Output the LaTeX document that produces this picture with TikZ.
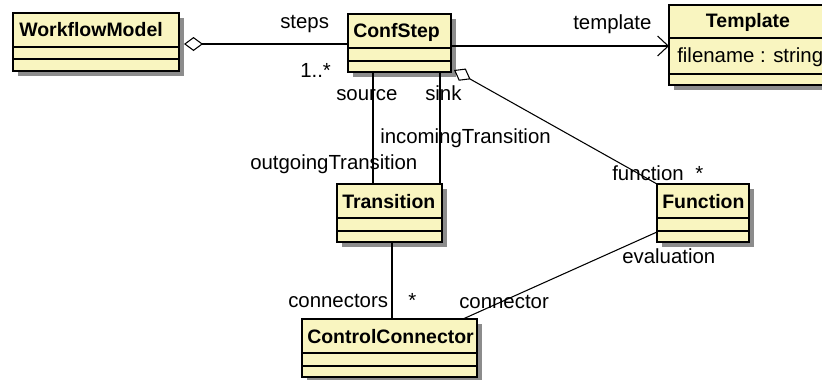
\documentclass[tikz,border=0pt]{standalone}
\usepackage{fontspec}
\setmainfont{Liberation Sans}
\usetikzlibrary{arrows.meta,calc,shadows}
\definecolor{clsfill}{RGB}{249,245,192}
\definecolor{shadowgray}{RGB}{140,140,140}
\newcommand{\clsdiv}[3]{%
  \draw[divline] ($(#1.north west)+(0,#2)$) -- ($(#1.north east)+(0,#2)$);
  \draw[divline] ($(#1.north west)+(0,#3)$) -- ($(#1.north east)+(0,#3)$);}
\begin{document}
\begin{tikzpicture}[x=0.75pt,y=-0.75pt,
  every node/.style={font=\fontsize{15.3}{18}\selectfont},
  cls/.style={draw=black, line width=1.1pt, fill=clsfill, rectangle,
    anchor=north west, inner sep=0pt, outer sep=0pt, minimum height=43.5pt,
    drop shadow={shadow xshift=3.75pt, shadow yshift=-3.75pt, fill=shadowgray, opacity=1}},
  divline/.style={line width=1.1pt},
  ttl/.style={anchor=base west, inner sep=0pt, font=\fontsize{14.6}{17}\selectfont\bfseries},
  lbl/.style={anchor=base west, inner sep=0pt},
  conn/.style={line width=0.8pt},
  aggr/.style={conn, {Diamond[open,length=14.25pt,width=10.5pt]}-},
  nav/.style={conn, -{Straight Barb[length=8pt,width=15pt]}}
]
\useasboundingbox (0,0) rectangle (822,379);

% classes
\node[cls, minimum width=124.5pt] (wm) at (13,13) {};
\node[cls, minimum width=77.25pt] (conf) at (348,14) {};
\node[cls, minimum width=118.5pt, minimum height=60pt] (tmpl) at (669,5) {};
\node[cls, minimum width=78.75pt] (trans) at (337,184) {};
\node[cls, minimum width=69pt] (func) at (657,184) {};
\node[cls, minimum width=131.25pt] (cc) at (302,319) {};

\clsdiv{wm}{34}{46}
\clsdiv{conf}{34}{47}
\clsdiv{tmpl}{33}{69}
\clsdiv{trans}{34}{47}
\clsdiv{func}{34}{47}
\clsdiv{cc}{34}{47}

% titles
\node[ttl] (wmT) at (19,36) {WorkflowModel};
\node[ttl] (confT) at (353,37) {ConfStep};
\node[ttl, anchor=base] (tmplT) at (748,27) {Template};
\node[lbl] (tmplA) at (677,62) {filename : string};
\node[ttl] (transT) at (342,208) {Transition};
\node[ttl] (funcT) at (662,208) {Function};
\node[ttl] (ccT) at (307,343) {ControlConnector};

% connectors
\draw[aggr] ($(wm.north east)+(5,31)$) -- ($(conf.north west)+(0,30)$);
\draw[nav] ($(conf.north east)+(0,32)$) -- ($(tmpl.north west)+(0,41)$);
\draw[conn] ($(conf.south west)+(25,0)$) coordinate (srcA) -- (srcA |- trans.north);
\draw[conn] ($(conf.south west)+(92,0)$) coordinate (snkA) -- (snkA |- trans.north);
\draw[aggr] ($(conf.south east)+(3,-2)$) -- (func.north west);
\draw[conn] ($(trans.south west)+(55,0)$) coordinate (tcA) -- (tcA |- cc.north);
\draw[conn] ($(func.north west)+(0,48)$) -- ($(cc.north west)+(161,0)$);

% labels
\node[lbl] (lSteps) at (280,28) {steps};
\node[lbl] (lMult1) at (300,77) {1..*};
\node[lbl] (lTmpl) at (573,29) {template};
\node[lbl] (lSrc) at (336,100) {source};
\node[lbl] (lSink) at (425,100) {sink};
\node[lbl] (lInc) at (380,143) {incomingTransition};
\node[lbl] (lOut) at (250,169) {outgoingTransition};
\node[lbl] (lFunc) at (612,180) {function};
\node[lbl] (lFuncM) at (695,180) {*};
\node[lbl] (lEval) at (622,263) {evaluation};
\node[lbl] (lConns) at (288,307) {connectors};
\node[lbl] (lConnsM) at (408,307) {*};
\node[lbl] (lConn) at (459,308) {connector};
\end{tikzpicture}
\end{document}
